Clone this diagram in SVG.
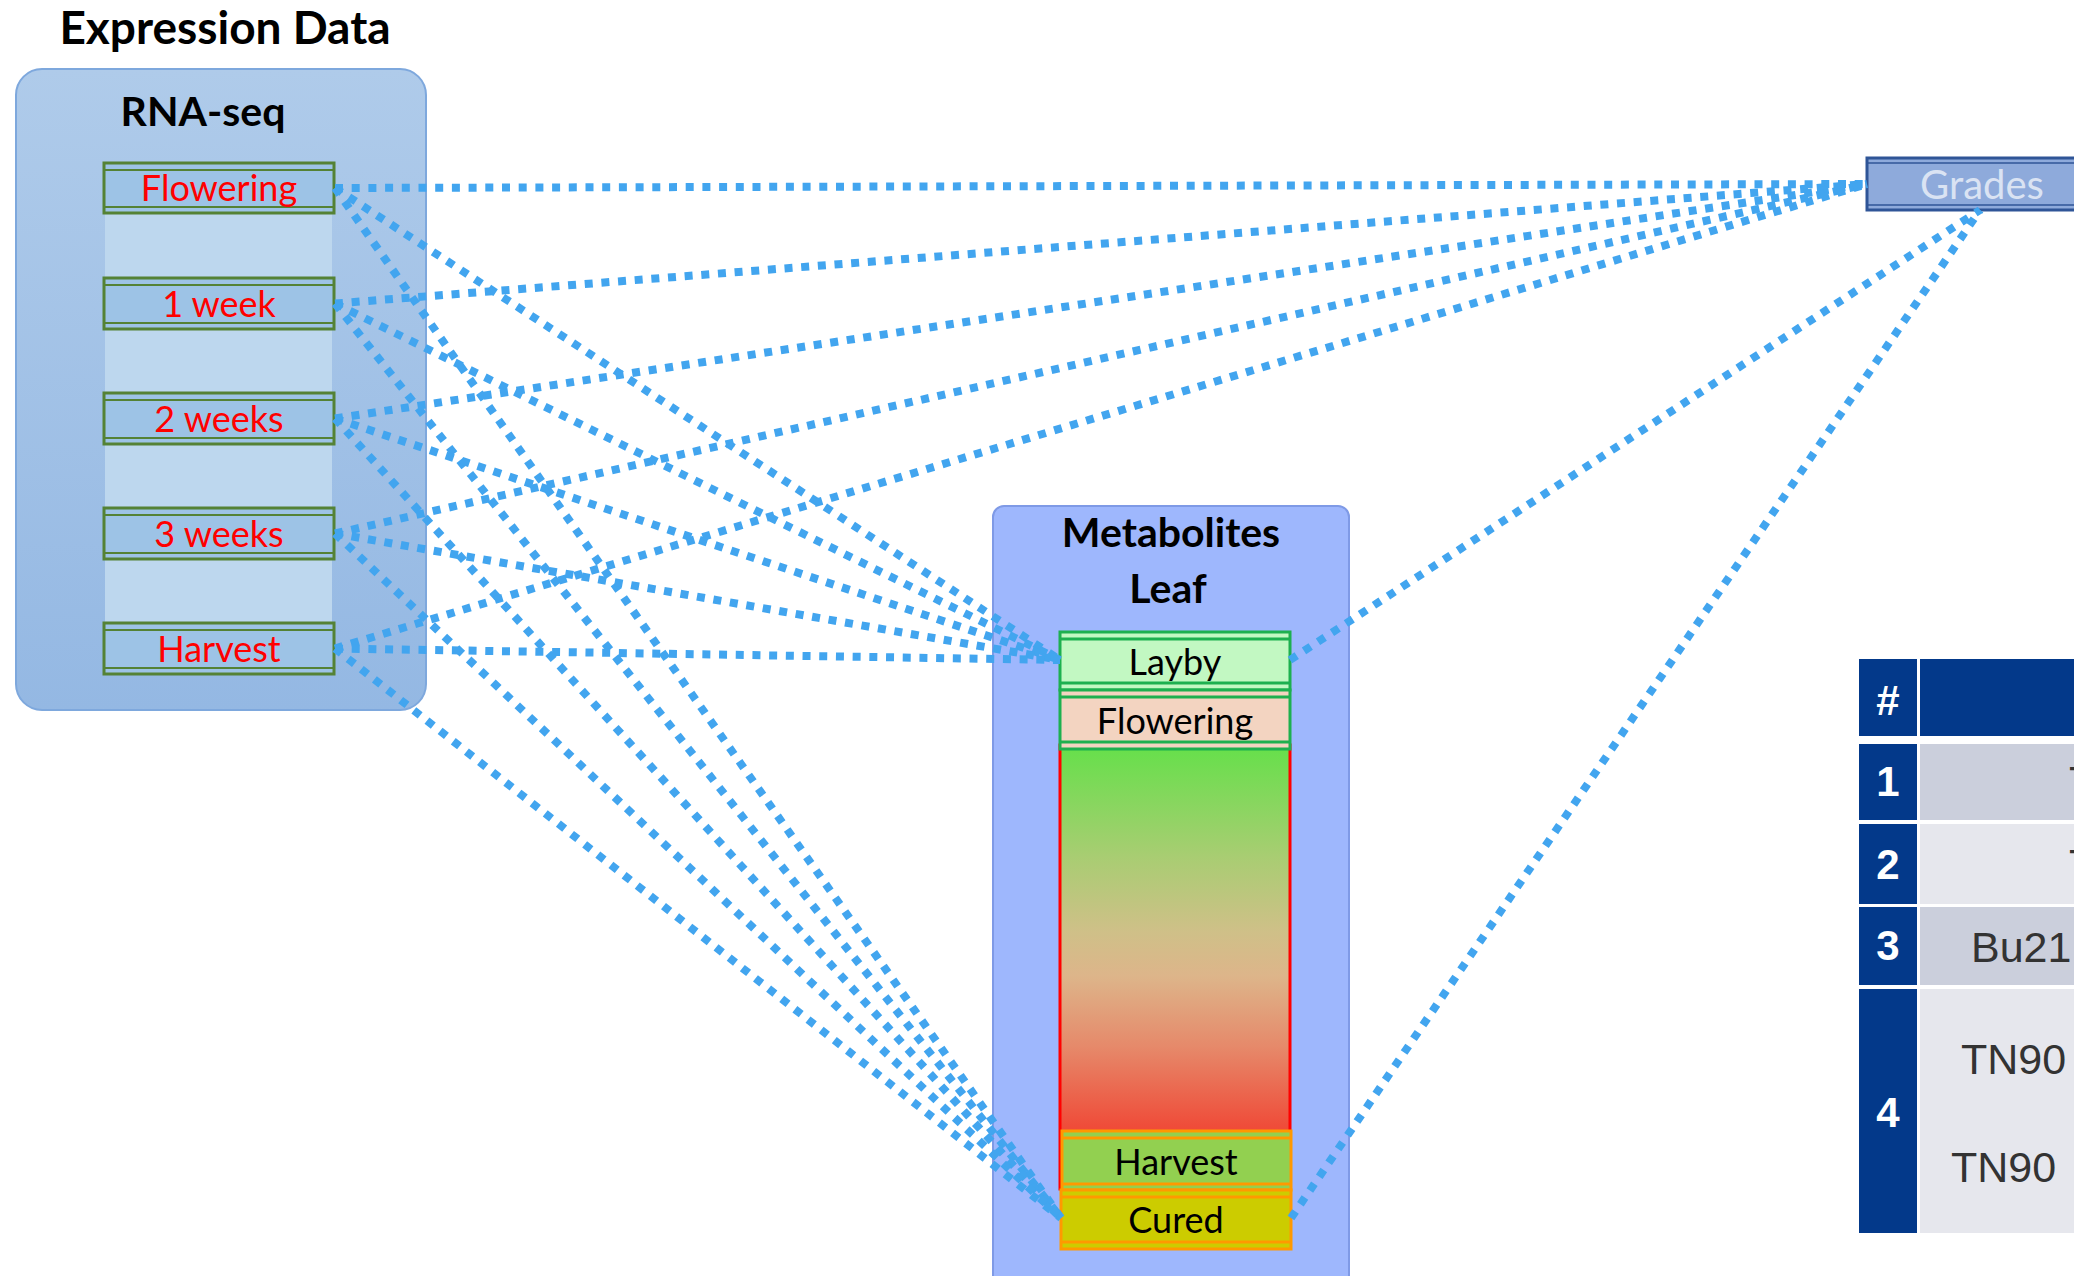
<svg xmlns="http://www.w3.org/2000/svg" width="2074" height="1276" viewBox="0 0 2074 1276">
<defs>
<linearGradient id="rnaGrad" x1="0" y1="0" x2="0" y2="1">
<stop offset="0" stop-color="#afcbea"/>
<stop offset="1" stop-color="#94b8e3"/>
</linearGradient>
<linearGradient id="leafGrad" x1="0" y1="0" x2="0" y2="1">
<stop offset="0" stop-color="#65e04a"/>
<stop offset="0.25" stop-color="#a8cd72"/>
<stop offset="0.42" stop-color="#cfc088"/>
<stop offset="0.52" stop-color="#ddb58a"/>
<stop offset="0.68" stop-color="#e6896a"/>
<stop offset="0.86" stop-color="#ef4c39"/>
<stop offset="1" stop-color="#f04535"/>
</linearGradient>
<style>
.title{font-family:Lato,"Liberation Sans",sans-serif;font-weight:bold;fill:#000;text-anchor:middle}
.stage{fill:#9dc3e6;stroke:#548235;stroke-width:3}
.stageIn{stroke:#548235;stroke-width:2}
.stageTxt{font-family:Lato,"Liberation Sans",sans-serif;font-size:36px;fill:#ff0000;text-anchor:middle}
.mTxt{font-family:Lato,"Liberation Sans",sans-serif;font-size:36px;fill:#000;text-anchor:middle}
.gStroke{stroke:#1db04f;stroke-width:3}
.oStroke{stroke:#ff9900;stroke-width:3}
.c{stroke:#42a5ef;stroke-width:8;stroke-dasharray:8 8.7;fill:none}
.hdr{fill:#03398a}
.num{font-family:"Liberation Sans",Arial,sans-serif;font-weight:bold;font-size:42px;fill:#fff;text-anchor:middle}
.cell{font-family:"Liberation Sans",Arial,sans-serif;font-size:43px;fill:#333}
</style>
</defs>
<rect width="2074" height="1276" fill="#fff"/>

<g id="title-expression">
<text class="title" x="225" y="44" font-size="46">Expression Data</text>
</g>

<g id="rnaseq">
<rect x="16" y="69" width="410" height="641" rx="26" fill="url(#rnaGrad)" stroke="#7ea8dd" stroke-width="2"/>
<text class="title" x="203" y="126" font-size="41">RNA-seq</text>
<rect x="105" y="163" width="227" height="512" fill="#bdd7ee"/>
</g>

<g id="rna-flowering">
<rect class="stage" x="104" y="163" width="230" height="50"/>
<line class="stageIn" x1="104" y1="170" x2="334" y2="170"/>
<line class="stageIn" x1="104" y1="207" x2="334" y2="207"/>
<text class="stageTxt" x="219" y="201">Flowering</text>
</g>
<g id="rna-1week">
<rect class="stage" x="104" y="278" width="230" height="51"/>
<line class="stageIn" x1="104" y1="285" x2="334" y2="285"/>
<line class="stageIn" x1="104" y1="323" x2="334" y2="323"/>
<text class="stageTxt" x="219" y="317">1 week</text>
</g>
<g id="rna-2weeks">
<rect class="stage" x="104" y="393" width="230" height="51"/>
<line class="stageIn" x1="104" y1="400" x2="334" y2="400"/>
<line class="stageIn" x1="104" y1="438" x2="334" y2="438"/>
<text class="stageTxt" x="219" y="432">2 weeks</text>
</g>
<g id="rna-3weeks">
<rect class="stage" x="104" y="508" width="230" height="51"/>
<line class="stageIn" x1="104" y1="515" x2="334" y2="515"/>
<line class="stageIn" x1="104" y1="553" x2="334" y2="553"/>
<text class="stageTxt" x="219" y="547">3 weeks</text>
</g>
<g id="rna-harvest">
<rect class="stage" x="104" y="623" width="230" height="51"/>
<line class="stageIn" x1="104" y1="630" x2="334" y2="630"/>
<line class="stageIn" x1="104" y1="668" x2="334" y2="668"/>
<text class="stageTxt" x="219" y="662">Harvest</text>
</g>

<g id="metabolites">
<rect x="993" y="506" width="356" height="800" rx="11" fill="#9eb7fd" stroke="#7f9ae6" stroke-width="2"/>
<text class="title" x="1171" y="547" font-size="41">Metabolites</text>
<text class="title" x="1168" y="603" font-size="41">Leaf</text>
<rect x="1060" y="745" width="230" height="444" fill="url(#leafGrad)" stroke="#ff0000" stroke-width="3"/>
</g>

<g id="m-layby">
<rect class="gStroke" x="1060" y="632" width="230" height="58" fill="#c2f8c2"/>
<line class="gStroke" stroke-width="2" x1="1060" y1="639" x2="1290" y2="639"/>
<line class="gStroke" stroke-width="2" x1="1060" y1="683" x2="1290" y2="683"/>
<text class="mTxt" x="1175" y="675">Layby</text>
</g>
<g id="m-flowering">
<rect class="gStroke" x="1060" y="690" width="230" height="59" fill="#f3d4c1"/>
<line class="gStroke" stroke-width="2" x1="1060" y1="697" x2="1290" y2="697"/>
<line class="gStroke" stroke-width="2" x1="1060" y1="742" x2="1290" y2="742"/>
<text class="mTxt" x="1175" y="734">Flowering</text>
</g>
<g id="m-harvest">
<rect class="oStroke" x="1062" y="1131" width="229" height="59" fill="#92d050"/>
<line class="oStroke" stroke-width="2" x1="1062" y1="1138" x2="1291" y2="1138"/>
<line class="oStroke" stroke-width="2" x1="1062" y1="1184" x2="1291" y2="1184"/>
<text class="mTxt" x="1176" y="1175">Harvest</text>
</g>
<g id="m-cured">
<rect class="oStroke" x="1061" y="1190" width="230" height="59" fill="#cccc00"/>
<line class="oStroke" stroke-width="2" x1="1061" y1="1197" x2="1291" y2="1197"/>
<line class="oStroke" stroke-width="2" x1="1061" y1="1242" x2="1291" y2="1242"/>
<text class="mTxt" x="1176" y="1233">Cured</text>
</g>

<g id="grades">
<rect x="1867" y="158" width="240" height="52" fill="#8eaadb" stroke="#2f5597" stroke-width="3"/>
<line x1="1867" y1="163" x2="2107" y2="163" stroke="#2f5597" stroke-width="1.5"/>
<line x1="1867" y1="205" x2="2107" y2="205" stroke="#2f5597" stroke-width="1.5"/>
<text x="1920" y="199" font-family="Lato,'Liberation Sans',sans-serif" font-size="40" fill="#dae3f3">Grades</text>
</g>

<g id="table">
<rect class="hdr" x="1859" y="659" width="58" height="77"/>
<rect class="hdr" x="1920" y="659" width="160" height="77"/>
<rect class="hdr" x="1859" y="744" width="58" height="76"/>
<rect x="1920" y="744" width="160" height="76" fill="#cbcfdc"/>
<rect class="hdr" x="1859" y="824" width="58" height="80"/>
<rect x="1920" y="824" width="160" height="80" fill="#e6e7ed"/>
<rect class="hdr" x="1859" y="907" width="58" height="78"/>
<rect x="1920" y="907" width="160" height="78" fill="#cbcfdc"/>
<rect class="hdr" x="1859" y="989" width="58" height="244"/>
<rect x="1920" y="989" width="160" height="244" fill="#e6e7ed"/>
<text class="num" x="1888" y="715">#</text>
<text class="num" x="1888" y="796">1</text>
<text class="num" x="1888" y="879">2</text>
<text class="num" x="1888" y="960">3</text>
<text class="num" x="1888" y="1127">4</text>
<text class="cell" x="2069" y="796">T</text>
<text class="cell" x="2069" y="879">T</text>
<text class="cell" x="1971" y="962">Bu21</text>
<text class="cell" x="1961" y="1074">TN90</text>
<text class="cell" x="1951" y="1182">TN90</text>
</g>

<g id="connectors">
<line class="c" x1="335" y1="188" x2="1867" y2="184"/>
<line class="c" x1="335" y1="188" x2="1060" y2="660"/>
<line class="c" x1="335" y1="188" x2="1061" y2="1218"/>
<line class="c" x1="335" y1="303.5" x2="1867" y2="184"/>
<line class="c" x1="335" y1="303.5" x2="1060" y2="660"/>
<line class="c" x1="335" y1="303.5" x2="1061" y2="1218"/>
<line class="c" x1="335" y1="418.5" x2="1867" y2="184"/>
<line class="c" x1="335" y1="418.5" x2="1060" y2="660"/>
<line class="c" x1="335" y1="418.5" x2="1061" y2="1218"/>
<line class="c" x1="335" y1="533.5" x2="1867" y2="184"/>
<line class="c" x1="335" y1="533.5" x2="1060" y2="660"/>
<line class="c" x1="335" y1="533.5" x2="1061" y2="1218"/>
<line class="c" x1="335" y1="648.5" x2="1867" y2="184"/>
<line class="c" x1="335" y1="648.5" x2="1060" y2="660"/>
<line class="c" x1="335" y1="648.5" x2="1061" y2="1218"/>
<line class="c" x1="1290" y1="660" x2="1980" y2="210"/>
<line class="c" x1="1291" y1="1218" x2="1980" y2="210"/>
</g>
</svg>
